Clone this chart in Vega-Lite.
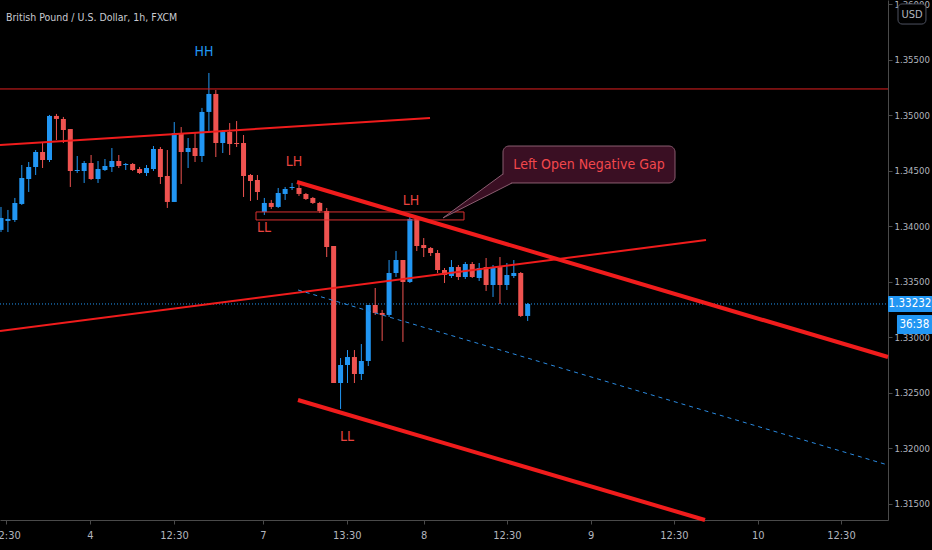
{
  "$schema": "https://vega.github.io/schema/vega-lite/v6.json",
  "width": 888,
  "height": 520,
  "autosize": "none",
  "padding": {"left": 0, "top": 0, "right": 44, "bottom": 30},
  "background": "#000000",
  "config": {"view": {"stroke": null}},
  "title": {"text": "British Pound / U.S. Dollar, 1h, FXCM", "anchor": "start", "frame": "group", "orient": "top", "offset": 0, "dx": 6, "dy": 32, "baseline": "alphabetic", "color": "#c9cbd1", "font": "Liberation Sans Narrow, DejaVu Sans Condensed, sans-serif", "fontSize": 10.5, "fontWeight": "normal"},
  "datasets": {
    "candles": [
      {"i":0,"o":1.33969,"h":1.34176,"l":1.33950,"c":1.34077},
      {"i":1,"o":1.34050,"h":1.34149,"l":1.33950,"c":1.34068},
      {"i":2,"o":1.34059,"h":1.34257,"l":1.34041,"c":1.34212},
      {"i":3,"o":1.34203,"h":1.34554,"l":1.34194,"c":1.34437},
      {"i":4,"o":1.34428,"h":1.34581,"l":1.34311,"c":1.34536},
      {"i":5,"o":1.34536,"h":1.34689,"l":1.34464,"c":1.34671},
      {"i":6,"o":1.34671,"h":1.34761,"l":1.34527,"c":1.34599},
      {"i":7,"o":1.34599,"h":1.35005,"l":1.34581,"c":1.34996},
      {"i":8,"o":1.34996,"h":1.35014,"l":1.34779,"c":1.34969},
      {"i":9,"o":1.34969,"h":1.34987,"l":1.34752,"c":1.34869},
      {"i":10,"o":1.34878,"h":1.34878,"l":1.34356,"c":1.34500},
      {"i":11,"o":1.34500,"h":1.34635,"l":1.34482,"c":1.34509},
      {"i":12,"o":1.34500,"h":1.34590,"l":1.34392,"c":1.34572},
      {"i":13,"o":1.34572,"h":1.34644,"l":1.34419,"c":1.34428},
      {"i":14,"o":1.34428,"h":1.34590,"l":1.34392,"c":1.34518},
      {"i":15,"o":1.34509,"h":1.34608,"l":1.34500,"c":1.34545},
      {"i":16,"o":1.34536,"h":1.34707,"l":1.34491,"c":1.34590},
      {"i":17,"o":1.34590,"h":1.34644,"l":1.34527,"c":1.34545},
      {"i":18,"o":1.34554,"h":1.34572,"l":1.34509,"c":1.34563},
      {"i":19,"o":1.34563,"h":1.34572,"l":1.34500,"c":1.34509},
      {"i":20,"o":1.34518,"h":1.34536,"l":1.34473,"c":1.34482},
      {"i":21,"o":1.34482,"h":1.34554,"l":1.34455,"c":1.34527},
      {"i":22,"o":1.34518,"h":1.34725,"l":1.34500,"c":1.34698},
      {"i":23,"o":1.34698,"h":1.34716,"l":1.34383,"c":1.34446},
      {"i":24,"o":1.34455,"h":1.34689,"l":1.34167,"c":1.34221},
      {"i":25,"o":1.34221,"h":1.34941,"l":1.34221,"c":1.34842},
      {"i":26,"o":1.34842,"h":1.34896,"l":1.34383,"c":1.34671},
      {"i":27,"o":1.34671,"h":1.34797,"l":1.34527,"c":1.34707},
      {"i":28,"o":1.34707,"h":1.34842,"l":1.34581,"c":1.34635},
      {"i":29,"o":1.34635,"h":1.35068,"l":1.34581,"c":1.35032},
      {"i":30,"o":1.35032,"h":1.35383,"l":1.34851,"c":1.35194},
      {"i":31,"o":1.35194,"h":1.35230,"l":1.34626,"c":1.34752},
      {"i":32,"o":1.34752,"h":1.34869,"l":1.34662,"c":1.34851},
      {"i":33,"o":1.34851,"h":1.34932,"l":1.34644,"c":1.34743},
      {"i":34,"o":1.34752,"h":1.34950,"l":1.34716,"c":1.34743},
      {"i":35,"o":1.34752,"h":1.34824,"l":1.34266,"c":1.34455},
      {"i":36,"o":1.34464,"h":1.34473,"l":1.34230,"c":1.34410},
      {"i":37,"o":1.34419,"h":1.34464,"l":1.34239,"c":1.34311},
      {"i":38,"o":1.34131,"h":1.34257,"l":1.34104,"c":1.34212},
      {"i":39,"o":1.34212,"h":1.34239,"l":1.34158,"c":1.34176},
      {"i":40,"o":1.34176,"h":1.34347,"l":1.34167,"c":1.34302},
      {"i":41,"o":1.34293,"h":1.34356,"l":1.34239,"c":1.34338},
      {"i":42,"o":1.34347,"h":1.34392,"l":1.34329,"c":1.34356},
      {"i":43,"o":1.34347,"h":1.34401,"l":1.34275,"c":1.34293},
      {"i":44,"o":1.34293,"h":1.34302,"l":1.34239,"c":1.34248},
      {"i":45,"o":1.34257,"h":1.34266,"l":1.34203,"c":1.34212},
      {"i":46,"o":1.34212,"h":1.34221,"l":1.34122,"c":1.34140},
      {"i":47,"o":1.34140,"h":1.34167,"l":1.33725,"c":1.33815},
      {"i":48,"o":1.33824,"h":1.33824,"l":1.32590,"c":1.32590},
      {"i":49,"o":1.32590,"h":1.32815,"l":1.32356,"c":1.32752},
      {"i":50,"o":1.32752,"h":1.32887,"l":1.32590,"c":1.32824},
      {"i":51,"o":1.32824,"h":1.32887,"l":1.32590,"c":1.32671},
      {"i":52,"o":1.32671,"h":1.32941,"l":1.32617,"c":1.32788},
      {"i":53,"o":1.32788,"h":1.33293,"l":1.32743,"c":1.33293},
      {"i":54,"o":1.33293,"h":1.33446,"l":1.33203,"c":1.33221},
      {"i":55,"o":1.33221,"h":1.33248,"l":1.32969,"c":1.33203},
      {"i":56,"o":1.33203,"h":1.33698,"l":1.33185,"c":1.33581},
      {"i":57,"o":1.33581,"h":1.33779,"l":1.33545,"c":1.33698},
      {"i":58,"o":1.33698,"h":1.33698,"l":1.32960,"c":1.33500},
      {"i":59,"o":1.33500,"h":1.34104,"l":1.33491,"c":1.34068},
      {"i":60,"o":1.34068,"h":1.34086,"l":1.33779,"c":1.33824},
      {"i":61,"o":1.33833,"h":1.33896,"l":1.33725,"c":1.33806},
      {"i":62,"o":1.33806,"h":1.33815,"l":1.33734,"c":1.33761},
      {"i":63,"o":1.33761,"h":1.33788,"l":1.33581,"c":1.33608},
      {"i":64,"o":1.33608,"h":1.33626,"l":1.33491,"c":1.33563},
      {"i":65,"o":1.33554,"h":1.33698,"l":1.33536,"c":1.33635},
      {"i":66,"o":1.33635,"h":1.33653,"l":1.33518,"c":1.33545},
      {"i":67,"o":1.33545,"h":1.33680,"l":1.33527,"c":1.33662},
      {"i":68,"o":1.33662,"h":1.33680,"l":1.33536,"c":1.33545},
      {"i":69,"o":1.33536,"h":1.33671,"l":1.33509,"c":1.33626},
      {"i":70,"o":1.33635,"h":1.33716,"l":1.33419,"c":1.33473},
      {"i":71,"o":1.33473,"h":1.33653,"l":1.33365,"c":1.33635},
      {"i":72,"o":1.33635,"h":1.33725,"l":1.33302,"c":1.33473},
      {"i":73,"o":1.33473,"h":1.33671,"l":1.33428,"c":1.33563},
      {"i":74,"o":1.33554,"h":1.33698,"l":1.33536,"c":1.33581},
      {"i":75,"o":1.33581,"h":1.33590,"l":1.33185,"c":1.33194},
      {"i":76,"o":1.33194,"h":1.33311,"l":1.33149,"c":1.33302}
    ],
    "drawings": [
      {"name":"res","k":0,"i":-0.144,"p":1.35239},
      {"name":"res","k":1,"i":127.995,"p":1.35239},
      {"name":"upper","k":0,"i":-0.144,"p":1.34734},
      {"name":"upper","k":1,"i":61.905,"p":1.34978},
      {"name":"mid","k":0,"i":-0.144,"p":1.33059},
      {"name":"mid","k":1,"i":101.731,"p":1.33878},
      {"name":"down1","k":0,"i":42.713,"p":1.34401},
      {"name":"down1","k":1,"i":127.995,"p":1.32824},
      {"name":"down2","k":0,"i":42.857,"p":1.32437},
      {"name":"down2","k":1,"i":101.587,"p":1.31356},
      {"name":"dash","k":0,"i":42.857,"p":1.33428},
      {"name":"dash","k":1,"i":127.995,"p":1.31851},
      {"name":"price","k":0,"i":-0.144,"p":1.33302},
      {"name":"price","k":1,"i":127.995,"p":1.33302}
    ],
    "tail": [
      {"k":0,"i":72.44,"p":1.34473},
      {"k":1,"i":63.782,"p":1.34077},
      {"k":2,"i":73.737,"p":1.34392}
    ],
    "boxes": [
      {"name":"gap","i":36.797,"i2":66.811,"p":1.34131,"p2":1.34059},
      {"name":"callout","i":72.44,"i2":97.26,"p":1.34725,"p2":1.34392}
    ],
    "labels": [
      {"text":"HH","side":"up","i":29.293,"p":1.3557},
      {"text":"LH","side":"down","i":42.28,"p":1.34581},
      {"text":"LL","side":"down","i":37.951,"p":1.33987},
      {"text":"LH","side":"down","i":59.164,"p":1.3423},
      {"text":"LL","side":"down","i":49.928,"p":1.32104}
    ],
    "callouttext": [
      {"text":"Left Open Negative Gap","i":84.85,"p":1.34554}
    ],
    "badges": [
      {"name":"last","i":127.995,"i2":134.4,"p":1.33374,"p2":1.3323,"ti":131.17,"tp":1.33302,"text":"1.33232"},
      {"name":"timer","i":129.29,"i2":134.4,"p":1.33203,"p2":1.33031,"ti":131.8,"tp":1.33117,"text":"36:38"}
    ],
    "usd": [
      {"i":129.44,"i2":133.47,"p":1.36005,"p2":1.35824,"ti":131.46,"tp":1.35909,"text":"USD"}
    ]
  },
  "layer": [
    {
      "data": {"name": "drawings"},
      "transform": [{"filter": "datum.name == 'price'"}],
      "mark": {"type": "line", "stroke": "#2196f3", "strokeWidth": 1, "strokeDash": [1, 2]},
      "encoding": {
        "x": {"field": "i", "type": "quantitative", "title": null,
          "scale": {"domain": [-0.144, 127.995], "nice": false, "zero": false, "padding": 0},
          "axis": {"values": [0.72, 12.84, 24.96, 37.8, 49.9, 61, 73, 85.1, 97.1, 109.2, 121.2],
            "labelExpr": "['12:30','4','12:30','7','13:30','8','12:30','9','12:30','10','12:30'][indexof([0.72, 12.84, 24.96, 37.8, 49.9, 61, 73, 85.1, 97.1, 109.2, 121.2], datum.value)]",
            "grid": false, "domainColor": "#4a4a4a", "tickColor": "#4a4a4a", "tickSize": 4, "labelColor": "#b2b5be",
            "labelFont": "Liberation Sans Narrow, DejaVu Sans Condensed, sans-serif", "labelFontSize": 11, "labelPadding": 5,
            "labelOverlap": false, "labelBound": false, "labelFlush": false, "title": null}},
        "y": {"field": "p", "type": "quantitative", "title": null,
          "scale": {"domain": [1.313558, 1.360405], "nice": false, "zero": false, "padding": 0},
          "axis": {"orient": "right", "values": [1.315, 1.32, 1.325, 1.33, 1.335, 1.34, 1.345, 1.35, 1.355, 1.36], "format": ".5f",
            "grid": false, "domainColor": "#4a4a4a", "tickColor": "#4a4a4a", "tickSize": 4, "labelColor": "#b2b5be",
            "labelFont": "Liberation Sans Narrow, DejaVu Sans Condensed, sans-serif", "labelFontSize": 9.5, "labelPadding": 2,
            "labelOverlap": false, "labelBound": false, "labelFlush": false, "title": null}},
        "detail": {"field": "name"},
        "order": {"field": "k"}
      }
    },
    {
      "data": {"name": "candles"},
      "mark": {"type": "rule", "strokeWidth": 1},
      "encoding": {
        "x": {"field": "i", "type": "quantitative", "title": null},
        "y": {"field": "l", "type": "quantitative", "title": null},
        "y2": {"field": "h"},
        "color": {"condition": {"test": "datum.c >= datum.o", "value": "#2196f3"}, "value": "#ef5350"}
      }
    },
    {
      "data": {"name": "candles"},
      "mark": {"type": "bar", "size": 5},
      "encoding": {
        "x": {"field": "i", "type": "quantitative", "title": null},
        "y": {"field": "o", "type": "quantitative", "title": null},
        "y2": {"field": "c"},
        "color": {"condition": {"test": "datum.c >= datum.o", "value": "#2196f3"}, "value": "#ef5350"}
      }
    },
    {
      "data": {"name": "boxes"},
      "transform": [{"filter": "datum.name == 'gap'"}],
      "mark": {"type": "rect", "fill": "transparent", "stroke": "#d83030", "strokeWidth": 1},
      "encoding": {
        "x": {"field": "i", "type": "quantitative", "title": null},
        "x2": {"field": "i2"},
        "y": {"field": "p", "type": "quantitative", "title": null},
        "y2": {"field": "p2"}
      }
    },
    {
      "data": {"name": "drawings"},
      "transform": [{"filter": "datum.name == 'res'"}],
      "mark": {"type": "line", "stroke": "#e02020", "strokeWidth": 1},
      "encoding": {
        "x": {"field": "i", "type": "quantitative", "title": null},
        "y": {"field": "p", "type": "quantitative", "title": null},
        "detail": {"field": "name"},
        "order": {"field": "k"}
      }
    },
    {
      "data": {"name": "drawings"},
      "transform": [{"filter": "datum.name == 'upper' || datum.name == 'mid'"}],
      "mark": {"type": "line", "stroke": "#f01c1c", "strokeWidth": 2},
      "encoding": {
        "x": {"field": "i", "type": "quantitative", "title": null},
        "y": {"field": "p", "type": "quantitative", "title": null},
        "detail": {"field": "name"},
        "order": {"field": "k"}
      }
    },
    {
      "data": {"name": "drawings"},
      "transform": [{"filter": "datum.name == 'down1' || datum.name == 'down2'"}],
      "mark": {"type": "line", "stroke": "#f01c1c", "strokeWidth": 4},
      "encoding": {
        "x": {"field": "i", "type": "quantitative", "title": null},
        "y": {"field": "p", "type": "quantitative", "title": null},
        "detail": {"field": "name"},
        "order": {"field": "k"}
      }
    },
    {
      "data": {"name": "drawings"},
      "transform": [{"filter": "datum.name == 'dash'"}],
      "mark": {"type": "line", "stroke": "#2a8ae0", "strokeWidth": 1, "strokeDash": [4, 4]},
      "encoding": {
        "x": {"field": "i", "type": "quantitative", "title": null},
        "y": {"field": "p", "type": "quantitative", "title": null},
        "detail": {"field": "name"},
        "order": {"field": "k"}
      }
    },
    {
      "data": {"name": "labels"},
      "mark": {"type": "text", "font": "Liberation Sans Narrow, DejaVu Sans Condensed, sans-serif", "fontSize": 14, "align": "center", "baseline": "middle"},
      "encoding": {
        "x": {"field": "i", "type": "quantitative", "title": null},
        "y": {"field": "p", "type": "quantitative", "title": null},
        "text": {"field": "text"},
        "color": {"condition": {"test": "datum.side == 'up'", "value": "#2196f3"}, "value": "#e8433f"}
      }
    },
    {
      "data": {"name": "boxes"},
      "transform": [{"filter": "datum.name == 'callout'"}],
      "mark": {"type": "rect", "fill": "#3a0f23", "stroke": "#8a5d70", "strokeWidth": 1, "cornerRadius": 6},
      "encoding": {
        "x": {"field": "i", "type": "quantitative", "title": null},
        "x2": {"field": "i2"},
        "y": {"field": "p", "type": "quantitative", "title": null},
        "y2": {"field": "p2"}
      }
    },
    {
      "data": {"name": "tail"},
      "mark": {"type": "line", "stroke": "#8a5d70", "strokeWidth": 1, "fill": "#3a0f23"},
      "encoding": {
        "x": {"field": "i", "type": "quantitative", "title": null},
        "y": {"field": "p", "type": "quantitative", "title": null},
        "order": {"field": "k"}
      }
    },
    {
      "data": {"name": "callouttext"},
      "mark": {"type": "text", "font": "Liberation Sans Narrow, DejaVu Sans Condensed, sans-serif", "fontSize": 14, "align": "center", "baseline": "middle", "color": "#f2474c"},
      "encoding": {
        "x": {"field": "i", "type": "quantitative", "title": null},
        "y": {"field": "p", "type": "quantitative", "title": null},
        "text": {"field": "text"}
      }
    },
    {
      "data": {"name": "badges"},
      "mark": {"type": "rect", "fill": "#2196f3", "cornerRadius": 1},
      "encoding": {
        "x": {"field": "i", "type": "quantitative", "title": null},
        "x2": {"field": "i2"},
        "y": {"field": "p", "type": "quantitative", "title": null},
        "y2": {"field": "p2"}
      }
    },
    {
      "data": {"name": "badges"},
      "mark": {"type": "text", "font": "Liberation Sans Narrow, DejaVu Sans Condensed, sans-serif", "fontSize": 11.5, "align": "center", "baseline": "middle", "color": "#ffffff"},
      "encoding": {
        "x": {"field": "ti", "type": "quantitative", "title": null},
        "y": {"field": "tp", "type": "quantitative", "title": null},
        "text": {"field": "text"}
      }
    },
    {
      "data": {"name": "usd"},
      "mark": {"type": "rect", "fill": "#000000", "stroke": "#4e5260", "strokeWidth": 1, "cornerRadius": 4},
      "encoding": {
        "x": {"field": "i", "type": "quantitative", "title": null},
        "x2": {"field": "i2"},
        "y": {"field": "p", "type": "quantitative", "title": null},
        "y2": {"field": "p2"}
      }
    },
    {
      "data": {"name": "usd"},
      "mark": {"type": "text", "font": "Liberation Sans Narrow, DejaVu Sans Condensed, sans-serif", "fontSize": 11, "align": "center", "baseline": "middle", "color": "#b2b5be"},
      "encoding": {
        "x": {"field": "ti", "type": "quantitative", "title": null},
        "y": {"field": "tp", "type": "quantitative", "title": null},
        "text": {"field": "text"}
      }
    }
  ]
}
